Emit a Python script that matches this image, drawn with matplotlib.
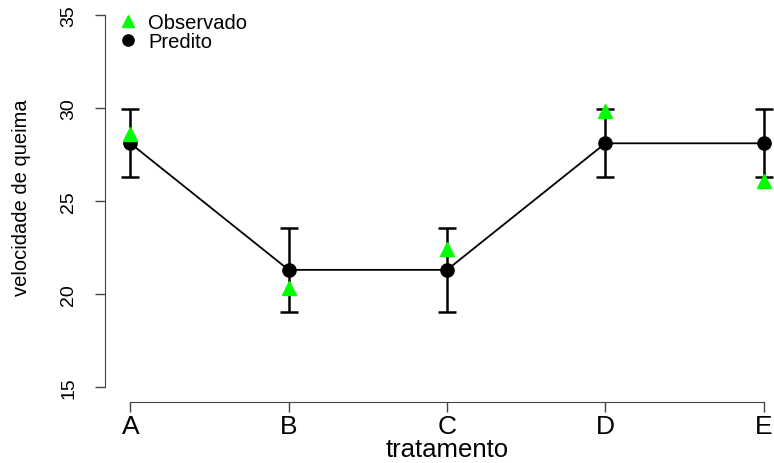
import matplotlib
matplotlib.use("Agg")
import matplotlib.pyplot as plt

plt.rcParams['font.family'] = ['Liberation Sans', 'DejaVu Sans']

# dados
tratamentos = ['A', 'B', 'C', 'D', 'E']
predito = [28.1, 21.3, 21.3, 28.1, 28.1]
erro = [1.83, 2.25, 2.25, 1.83, 1.83]
observado = [28.6, 20.3, 22.4, 29.85, 26.1]
yticks = [15, 20, 25, 30, 35]

x = list(range(1, len(tratamentos) + 1))

fig = plt.figure(figsize=(7.74, 4.64), dpi=100)
ax = fig.add_axes([105 / 774, 61 / 464, 684 / 774, 402 / 464])

ax.plot(x, predito, color='black', lw=1.3, zorder=2)
ax.errorbar(x, predito, yerr=erro, fmt='none', ecolor='black', elinewidth=1.8,
            capsize=6.5, capthick=1.8, zorder=3)
ax.plot(x, predito, 'o', color='black', markersize=9.5, label='Predito', zorder=4)
ax.plot(x, observado, '^', color='#00FF00', markersize=10, label='Observado', zorder=5)

ax.set_xlim(0.84, 5.16)
ax.set_ylim(14.2, 35.8)
ax.set_xticks(x)
ax.set_xticklabels(tratamentos)
ax.set_yticks(yticks)
ax.set_yticklabels([str(v) for v in yticks], rotation=90, va='center')

for s in ['top', 'right']:
    ax.spines[s].set_visible(False)
ax.spines['left'].set_bounds(15, 35)
ax.spines['bottom'].set_bounds(1, 5)
ax.spines['left'].set_color('#444444')
ax.spines['bottom'].set_color('#444444')

ax.tick_params(axis='x', length=7, width=1, color='#444444', labelsize=19, pad=2)
ax.tick_params(axis='y', length=7, width=1, color='#444444', labelsize=14, pad=13)

ax.set_xlabel('tratamento', fontsize=18.5)
ax.xaxis.set_label_coords(0.5, -0.087)
ax.set_ylabel('velocidade de queima', fontsize=14.5)
ax.yaxis.set_label_coords(-0.108, 0.51)

h, l = ax.get_legend_handles_labels()
ax.legend([h[1], h[0]], [l[1], l[0]], loc='upper left', bbox_to_anchor=(0.0, 1.0),
          frameon=False, fontsize=14.5, handlelength=1.0, handletextpad=0.5,
          labelspacing=0.0, borderpad=0.2, borderaxespad=0.45, markerscale=0.85)

fig.savefig('out.png', dpi=100)
